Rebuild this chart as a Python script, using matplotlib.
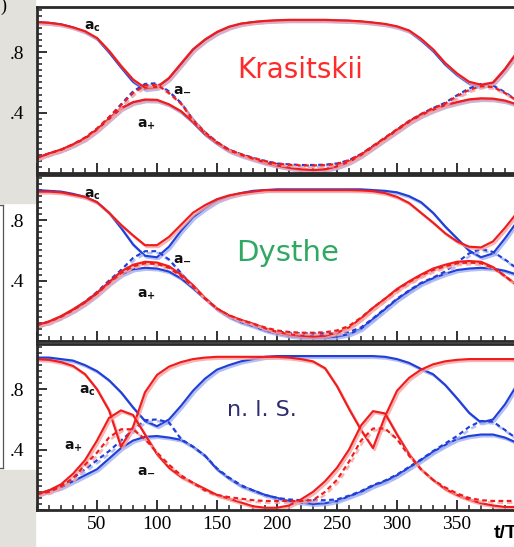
import matplotlib
matplotlib.use("Agg")
import matplotlib.pyplot as plt
from matplotlib import transforms
from matplotlib.ticker import MultipleLocator, FuncFormatter
from matplotlib.patches import Rectangle
from matplotlib.lines import Line2D

# ---- time axis (t/T) -------------------------------------------------------
T = list(range(0, 401, 10))

# ---- Krasitskii --------------------------------------------------------------
kras_red_ac = [1.00, 0.995, 0.985, 0.965, 0.94, 0.895, 0.81, 0.71, 0.62, 0.565,
               0.57, 0.63, 0.725, 0.82, 0.885, 0.935, 0.97, 0.99, 1.0, 1.008,
               1.012, 1.015, 1.015, 1.015, 1.015, 1.012, 1.01, 1.005, 0.997, 0.988,
               0.972, 0.945, 0.89, 0.82, 0.73, 0.66, 0.605, 0.585, 0.60, 0.69, 0.80]
kras_red_ap = [0.10, 0.13, 0.155, 0.19, 0.23, 0.29, 0.36, 0.43, 0.47, 0.487,
               0.485, 0.455, 0.41, 0.34, 0.26, 0.20, 0.15, 0.12, 0.095, 0.07,
               0.05, 0.035, 0.025, 0.02, 0.025, 0.045, 0.075, 0.12, 0.175, 0.23,
               0.285, 0.34, 0.385, 0.42, 0.45, 0.47, 0.488, 0.495, 0.493, 0.48, 0.455]
kras_red_am = [0.10, 0.13, 0.155, 0.19, 0.235, 0.295, 0.37, 0.45, 0.53, 0.58,
               0.585, 0.53, 0.46, 0.35, 0.27, 0.205, 0.155, 0.125, 0.10, 0.08,
               0.062, 0.055, 0.05, 0.05, 0.052, 0.06, 0.085, 0.125, 0.18, 0.235,
               0.29, 0.345, 0.39, 0.43, 0.46, 0.51, 0.55, 0.575, 0.57, 0.53, 0.48]
kras_blue_ac = [1.00, 0.995, 0.985, 0.965, 0.935, 0.89, 0.80, 0.70, 0.605, 0.555,
                0.565, 0.625, 0.72, 0.815, 0.88, 0.93, 0.965, 0.988, 1.0, 1.006,
                1.01, 1.012, 1.012, 1.012, 1.012, 1.01, 1.008, 1.003, 0.995, 0.985,
                0.968, 0.94, 0.88, 0.81, 0.72, 0.65, 0.595, 0.575, 0.595, 0.685, 0.795]
kras_blue_ap = [0.10, 0.128, 0.152, 0.186, 0.226, 0.285, 0.355, 0.425, 0.465, 0.482,
                0.48, 0.452, 0.405, 0.335, 0.255, 0.195, 0.145, 0.115, 0.09, 0.066,
                0.047, 0.032, 0.022, 0.018, 0.022, 0.04, 0.07, 0.115, 0.17, 0.225,
                0.28, 0.335, 0.38, 0.415, 0.445, 0.465, 0.483, 0.49, 0.488, 0.475, 0.45]
kras_blue_am = [0.10, 0.128, 0.152, 0.188, 0.232, 0.292, 0.368, 0.455, 0.54, 0.59,
                0.595, 0.54, 0.465, 0.355, 0.27, 0.205, 0.155, 0.125, 0.10, 0.08,
                0.063, 0.057, 0.053, 0.053, 0.055, 0.063, 0.085, 0.125, 0.178, 0.232,
                0.288, 0.343, 0.39, 0.43, 0.465, 0.515, 0.56, 0.59, 0.58, 0.535, 0.48]

# ---- Dysthe ----------------------------------------------------------------
dys_red_ac = [0.99, 0.99, 0.985, 0.97, 0.955, 0.92, 0.85, 0.77, 0.70, 0.635,
              0.635, 0.69, 0.77, 0.85, 0.90, 0.94, 0.965, 0.98, 0.99, 1.0,
              1.0, 1.0, 1.0, 1.0, 1.0, 1.0, 1.0, 0.998, 0.993, 0.98,
              0.955, 0.915, 0.85, 0.785, 0.715, 0.66, 0.625, 0.62, 0.66, 0.75, 0.85]
dys_red_ap = [0.105, 0.13, 0.165, 0.21, 0.26, 0.32, 0.39, 0.46, 0.505, 0.525,
              0.52, 0.495, 0.44, 0.37, 0.285, 0.215, 0.17, 0.14, 0.115, 0.085,
              0.06, 0.045, 0.035, 0.03, 0.035, 0.055, 0.09, 0.15, 0.22, 0.28,
              0.345, 0.395, 0.44, 0.48, 0.505, 0.525, 0.53, 0.525, 0.49, 0.43, 0.37]
dys_red_am = [0.105, 0.128, 0.16, 0.205, 0.255, 0.315, 0.385, 0.45, 0.495, 0.515,
              0.51, 0.485, 0.43, 0.36, 0.28, 0.215, 0.17, 0.14, 0.115, 0.09,
              0.07, 0.06, 0.055, 0.055, 0.058, 0.07, 0.10, 0.155, 0.22, 0.28,
              0.34, 0.39, 0.435, 0.47, 0.495, 0.515, 0.52, 0.515, 0.485, 0.43, 0.37]
dys_blue_ac = [1.0, 0.995, 0.99, 0.975, 0.955, 0.92, 0.85, 0.75, 0.64, 0.565,
               0.555, 0.625, 0.73, 0.82, 0.88, 0.93, 0.96, 0.98, 0.995, 1.0,
               1.005, 1.005, 1.005, 1.005, 1.005, 1.005, 1.005, 1.005, 1.0, 0.995,
               0.985, 0.96, 0.92, 0.85, 0.76, 0.68, 0.60, 0.555, 0.58, 0.68, 0.79]
dys_blue_ap = [0.105, 0.125, 0.16, 0.20, 0.25, 0.31, 0.38, 0.44, 0.475, 0.485,
               0.48, 0.46, 0.415, 0.35, 0.28, 0.21, 0.16, 0.125, 0.10, 0.07,
               0.05, 0.035, 0.025, 0.02, 0.022, 0.03, 0.045, 0.08, 0.145, 0.21,
               0.275, 0.33, 0.38, 0.415, 0.445, 0.47, 0.48, 0.485, 0.48, 0.465, 0.44]
dys_blue_am = [0.105, 0.125, 0.16, 0.205, 0.26, 0.325, 0.40, 0.47, 0.55, 0.595,
               0.595, 0.54, 0.45, 0.36, 0.285, 0.215, 0.165, 0.13, 0.105, 0.08,
               0.062, 0.055, 0.05, 0.05, 0.05, 0.05, 0.06, 0.09, 0.15, 0.215,
               0.28, 0.335, 0.385, 0.42, 0.46, 0.52, 0.58, 0.61, 0.59, 0.54, 0.48]

# ---- nonlinear Schroedinger ---------------------------------------------------
nls_red_ac = [1.00, 0.995, 0.98, 0.955, 0.90, 0.80, 0.66, 0.42, 0.55, 0.78,
              0.895, 0.95, 0.98, 1.0, 1.01, 1.015, 1.015, 1.015, 1.015, 1.015,
              1.015, 1.01, 1.0, 0.985, 0.94, 0.82, 0.67, 0.53, 0.41, 0.62,
              0.79, 0.875, 0.93, 0.965, 0.985, 0.995, 1.0, 1.0, 1.0, 1.0, 1.0]
nls_red_ap = [0.105, 0.13, 0.17, 0.24, 0.33, 0.46, 0.61, 0.66, 0.63, 0.50,
              0.37, 0.28, 0.22, 0.18, 0.14, 0.10, 0.075, 0.05, 0.025, 0.015,
              0.015, 0.03, 0.07, 0.12, 0.19, 0.28, 0.40, 0.56, 0.655, 0.64,
              0.50, 0.37, 0.27, 0.20, 0.14, 0.10, 0.07, 0.045, 0.03, 0.02, 0.02]
nls_red_am = [0.105, 0.12, 0.155, 0.21, 0.30, 0.38, 0.48, 0.535, 0.535, 0.47,
              0.38, 0.30, 0.23, 0.18, 0.13, 0.10, 0.085, 0.075, 0.065, 0.06,
              0.06, 0.06, 0.06, 0.065, 0.12, 0.20, 0.32, 0.46, 0.54, 0.54,
              0.47, 0.36, 0.27, 0.20, 0.15, 0.11, 0.08, 0.065, 0.06, 0.06, 0.06]
nls_blue_ac = [1.01, 1.01, 1.0, 0.99, 0.96, 0.92, 0.86, 0.78, 0.68, 0.59,
               0.555, 0.60, 0.69, 0.79, 0.87, 0.93, 0.96, 0.985, 1.0, 1.015,
               1.02, 1.02, 1.02, 1.02, 1.02, 1.02, 1.02, 1.02, 1.02, 1.015,
               1.0, 0.975, 0.935, 0.90, 0.83, 0.74, 0.645, 0.58, 0.60, 0.70, 0.83]
nls_blue_ap = [0.105, 0.125, 0.15, 0.19, 0.23, 0.27, 0.34, 0.41, 0.46, 0.485,
               0.49, 0.48, 0.465, 0.42, 0.36, 0.27, 0.21, 0.16, 0.13, 0.10,
               0.08, 0.06, 0.05, 0.04, 0.045, 0.06, 0.09, 0.12, 0.16, 0.19,
               0.23, 0.28, 0.33, 0.385, 0.43, 0.47, 0.49, 0.50, 0.50, 0.48, 0.445]
nls_blue_am = [0.105, 0.13, 0.16, 0.21, 0.27, 0.33, 0.39, 0.46, 0.53, 0.595,
               0.60, 0.58, 0.47, 0.42, 0.36, 0.275, 0.215, 0.165, 0.13, 0.10,
               0.08, 0.07, 0.065, 0.065, 0.065, 0.07, 0.095, 0.125, 0.165, 0.195,
               0.235, 0.285, 0.335, 0.39, 0.44, 0.49, 0.55, 0.59, 0.585, 0.53, 0.47]

# ---- model names and mode labels -------------------------------------------------
model_names = ["Krasitskii", "Dysthe", "n. l. S."]
mode_labels = [r"$\mathbf{a}_{\mathbf{c}}$", r"$\mathbf{a}_{\mathbf{-}}$", r"$\mathbf{a}_{\mathbf{+}}$"]
x_ticks = [50, 100, 150, 200, 250, 300, 350]
x_label = "t/T"

RED = "#f01c1c"
BLUE = "#1f3fd8"
RED_SHADOW = "#f7a3a3"
BLUE_SHADOW = "#a3b0f2"

W, H = 514, 547
fig = plt.figure(figsize=(W / 100, H / 100), dpi=100)

# paper margin on the left, behind everything
for y0, y1 in [(0, 203), (470, 547)]:
    fig.patches.append(Rectangle((0, 1 - y1 / H), 35 / W, (y1 - y0) / H,
                                 transform=fig.transFigure, color="#e3e1db", zorder=-10))
for xs, ys in [([3, 3], [205, 468]), ([0, 3], [205, 205]), ([0, 3], [468, 468])]:
    fig.add_artist(Line2D([x / W for x in xs], [1 - y / H for y in ys],
                          color="#555555", lw=0.9, zorder=-5))
fig.text(0.0, 1 - 6 / H, ")", fontsize=13, family="Liberation Serif", va="center", ha="left")

panels = [
    (173, [kras_blue_ac, kras_blue_ap, kras_blue_am], [kras_red_ac, kras_red_ap, kras_red_am]),
    (341, [dys_blue_ac, dys_blue_ap, dys_blue_am], [dys_red_ac, dys_red_ap, dys_red_am]),
    (510, [nls_blue_ac, nls_blue_ap, nls_blue_am], [nls_red_ac, nls_red_ap, nls_red_am]),
]

left_px, width_px, height_px = 37, 480, 166
axes = []
for bottom_px, blue_set, red_set in panels:
    ax = fig.add_axes([left_px / W, (H - bottom_px) / H, width_px / W, height_px / H])
    ax.set_xlim(0, 400)
    ax.set_ylim(0, 1.1)
    shadow = transforms.offset_copy(ax.transData, fig=fig, x=1.6, y=-1.8, units="dots")
    for series, col, scol in [(blue_set, BLUE, BLUE_SHADOW), (red_set, RED, RED_SHADOW)]:
        ac, ap, am = series
        for vals, ls in [(ac, "-"), (ap, "-"), (am, (0, (2.2, 1.6)))]:
            ax.plot(T, vals, color=scol, lw=1.8, ls=ls, alpha=0.8, transform=shadow,
                    solid_capstyle="round", solid_joinstyle="round")
            ax.plot(T, vals, color=col, lw=1.55, ls=ls, solid_capstyle="round",
                    solid_joinstyle="round")
    for sp in ax.spines.values():
        sp.set_linewidth(2.0)
        sp.set_color("#2a2a2a")
    ax.xaxis.set_major_locator(MultipleLocator(50))
    ax.xaxis.set_minor_locator(MultipleLocator(10))
    ax.yaxis.set_major_locator(MultipleLocator(0.4))
    ax.yaxis.set_minor_locator(MultipleLocator(0.04))
    ax.tick_params(axis="both", which="major", direction="in", length=7.5, width=1.3,
                   color="#222222", top=False, right=False)
    ax.tick_params(axis="both", which="minor", direction="in", length=3.8, width=1.1,
                   color="#222222", top=False, right=False)
    ax.tick_params(axis="y", which="major", pad=9)
    ax.yaxis.set_major_formatter(FuncFormatter(
        lambda v, p: "" if v < 0.1 else ("%.1f" % v).lstrip("0")))
    ax.set_xticklabels([])
    axes.append(ax)

ax3 = axes[2]
ax3.set_xticks(x_ticks)
ax3.set_xticklabels([str(v) for v in x_ticks], family="Liberation Serif", fontsize=14)
ax3.tick_params(axis="x", which="major", pad=4)
for ax in axes:
    for lab in ax.get_yticklabels():
        lab.set_fontfamily("Liberation Serif")
        lab.set_fontsize(14)

fig.text(494 / W, 1 - 533 / H, x_label, fontsize=14, weight="bold",
         family="Liberation Sans", va="center", ha="left")

# model names
axes[0].text(219, 0.68, model_names[0], color="#ff2a2a", fontsize=20,
             family="Liberation Sans Narrow", ha="center", va="center")
axes[1].text(209, 0.58, model_names[1], color="#2fa862", fontsize=21,
             family="Liberation Sans Narrow", ha="center", va="center")
axes[2].text(187, 0.66, model_names[2], color="#2c2c70", fontsize=16,
             family="DejaVu Sans", ha="center", va="center")

# mode labels (c, -, +)
label_pos = [
    [(46, 0.967), (121, 0.563), (91, 0.318)],
    [(46, 0.97), (121, 0.556), (91, 0.305)],
    [(42, 0.79), (91, 0.27), (30, 0.42)],
]
for ax, pos in zip(axes, label_pos):
    for txt, (tx, ty) in zip(mode_labels, pos):
        ax.text(tx, ty, txt, fontsize=10, ha="center", va="center", color="#111111")

fig.savefig("out.png", dpi=100)
